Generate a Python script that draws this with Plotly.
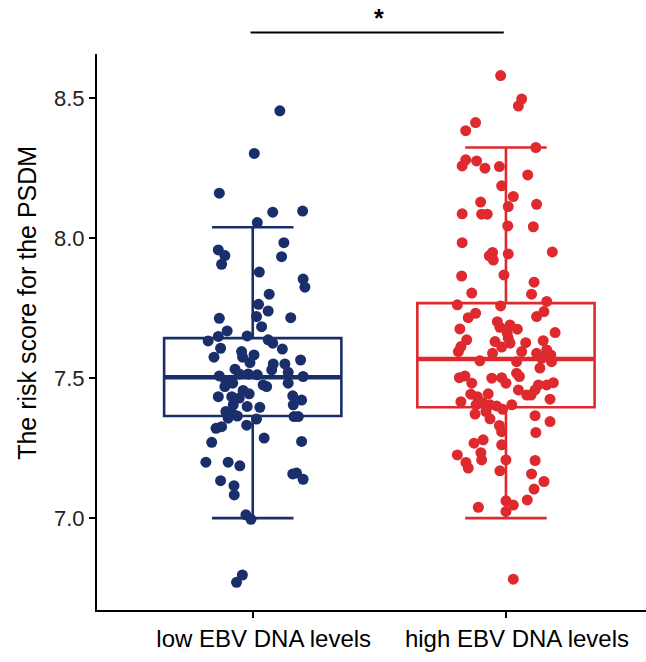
import plotly.graph_objects as go

categories = ["low EBV DNA levels", "high EBV DNA levels"]
cat_pos = [1, 2]
colors = ["#1b2e6c", "#de2a2f"]

# low group: risk score values and horizontal jitter offsets (category units)
low_values = [8.454, 8.302, 8.160, 8.092, 8.096, 8.055, 7.957, 7.937, 7.906, 7.983,
              7.933, 7.878, 7.853, 7.824, 7.799, 7.763, 7.739, 7.713, 7.719, 7.715,
              7.683, 7.668, 7.650, 7.632, 7.648, 7.606, 7.574, 7.636, 7.624, 7.603,
              7.594, 7.582, 7.574, 7.555, 7.564, 7.550, 7.550, 7.531, 7.529, 7.520,
              7.507, 7.514, 7.514, 7.511, 7.505, 7.487, 7.481, 7.475, 7.469, 7.481,
              7.469, 7.433, 7.433, 7.455, 7.443, 7.428, 7.436, 7.421, 7.404, 7.395,
              7.398, 7.404, 7.380, 7.371, 7.364, 7.356, 7.353, 7.362, 7.362, 7.331,
              7.326, 7.320, 7.285, 7.270, 7.273, 7.199, 7.199, 7.186, 7.157, 7.160,
              7.138, 7.133, 7.115, 7.082, 7.011, 6.995, 6.796, 6.770]
low_jitter = [0.107, 0.006, -0.132, 0.079, 0.197, 0.018, -0.136, -0.110, -0.123, 0.123,
              0.114, 0.026, 0.199, 0.206, 0.065, 0.023, 0.061, -0.132, 0.015, 0.150,
              0.035, -0.101, -0.022, -0.176, -0.136, -0.127, -0.153, 0.061, 0.079, 0.117,
              -0.044, 0.005, -0.040, -0.011, 0.189, 0.081, 0.127, -0.070, 0.075, 0.140,
              -0.132, -0.053, -0.018, 0.018, 0.199, -0.106, -0.079, 0.041, 0.055, 0.140,
              -0.110, -0.136, -0.083, -0.038, -0.014, -0.053, 0.158, 0.193, 0.160, 0.028,
              -0.022, -0.077, -0.106, -0.079, -0.061, -0.097, 0.015, 0.163, 0.180, -0.024,
              -0.123, -0.145, 0.045, -0.162, 0.193, -0.185, -0.097, -0.051, 0.158, 0.173,
              0.199, -0.127, -0.074, -0.073, -0.027, -0.007, -0.041, -0.064]

# high group
high_values = [8.580, 8.496, 8.471, 8.412, 8.383, 8.323, 8.279, 8.257, 8.275, 8.249,
               8.255, 8.225, 8.186, 8.148, 8.128, 8.112, 8.120, 8.086, 8.085, 8.085,
               8.043, 8.040, 7.983, 7.948, 7.936, 7.943, 7.950, 7.921, 7.864, 7.868,
               7.842, 7.803, 7.799, 7.761, 7.757, 7.773, 7.737, 7.719, 7.731, 7.715,
               7.701, 7.689, 7.681, 7.674, 7.675, 7.662, 7.660, 7.642, 7.636, 7.630,
               7.624, 7.626, 7.633, 7.612, 7.610, 7.594, 7.594, 7.588, 7.600, 7.582,
               7.588, 7.570, 7.558, 7.561, 7.558, 7.535, 7.517, 7.501, 7.507, 7.481,
               7.499, 7.501, 7.481, 7.505, 7.483, 7.475, 7.475, 7.457, 7.457, 7.439,
               7.439, 7.442, 7.433, 7.443, 7.412, 7.415, 7.424, 7.404, 7.404, 7.400,
               7.404, 7.388, 7.371, 7.380, 7.365, 7.344, 7.354, 7.330, 7.308, 7.305,
               7.267, 7.279, 7.261, 7.225, 7.198, 7.178, 7.233, 7.207, 7.207, 7.168,
               7.205, 7.157, 7.130, 7.103, 7.064, 7.061, 7.046, 7.023, 7.038, 6.781]
high_jitter = [-0.021, 0.062, 0.049, -0.120, -0.159, 0.118, -0.159, -0.173, -0.116, -0.083,
               -0.026, 0.086, -0.017, 0.029, -0.100, 0.009, 0.121, -0.173, -0.096, -0.074,
               0.007, 0.108, -0.173, -0.053, -0.066, 0.009, 0.183, -0.050, -0.175, -0.008,
               0.111, -0.135, 0.101, -0.192, -0.021, 0.161, 0.150, 0.121, -0.120, -0.149,
               -0.034, 0.016, -0.024, 0.045, -0.182, 0.194, 0.005, 0.009, -0.155, -0.043,
               0.016, 0.078, 0.147, -0.178, -0.017, -0.188, 0.062, 0.121, 0.161, 0.177,
               -0.053, 0.141, 0.180, -0.103, 0.042, 0.134, 0.042, -0.184, -0.162, -0.135,
               -0.056, -0.017, 0.000, 0.053, 0.187, 0.161, 0.128, 0.115, 0.049, 0.082,
               0.099, -0.139, -0.113, -0.070, -0.092, -0.178, 0.174, -0.118, -0.063, -0.037,
               0.023, -0.013, -0.122, -0.079, 0.115, 0.174, -0.063, -0.026, -0.017, 0.118,
               -0.126, -0.090, -0.017, -0.192, -0.158, -0.149, -0.099, -0.096, 0.000, -0.024,
               0.115, 0.101, 0.150, 0.111, 0.084, 0.000, 0.029, 0.000, -0.109, 0.029]

# box statistics
q1 = [7.364, 7.395]
median = [7.502, 7.568]
q3 = [7.642, 7.767]
lower_whisker = [6.999, 6.999]
upper_whisker = [8.038, 8.323]

y_title = "The risk score for the PSDM"
y_ticks = [7.0, 7.5, 8.0, 8.5]
y_ticktext = ["7.0", "7.5", "8.0", "8.5"]
signif_label = "*"

box_width = 0.70
x_range = [0.385, 2.553]
y_range = [6.671, 8.657]

fig = go.Figure()

for i in range(2):
    c = cat_pos[i]
    fig.add_trace(go.Box(
        x=[c], q1=[q1[i]], median=[median[i]], q3=[q3[i]],
        lowerfence=[lower_whisker[i]], upperfence=[upper_whisker[i]],
        width=box_width, whiskerwidth=0.46,
        fillcolor="rgba(255,255,255,0)",
        line=dict(color=colors[i], width=2.6),
        boxpoints=False, showlegend=False, hoverinfo="skip"))
    fig.add_trace(go.Scatter(
        x=[c - box_width / 2, c + box_width / 2], y=[median[i], median[i]],
        mode="lines", line=dict(color=colors[i], width=4.5),
        showlegend=False, hoverinfo="skip"))

groups = [(low_values, low_jitter), (high_values, high_jitter)]
for i, (vals, jit) in enumerate(groups):
    fig.add_trace(go.Scatter(
        x=[cat_pos[i] + j for j in jit], y=vals, mode="markers",
        marker=dict(color=colors[i], size=11, line=dict(width=0)),
        showlegend=False, hoverinfo="skip"))

# significance bar between the two category centres
span = x_range[1] - x_range[0]
px1 = (cat_pos[0] - x_range[0]) / span
px2 = (cat_pos[1] - x_range[0]) / span
fig.add_shape(type="line", xref="paper", yref="paper",
              x0=px1 - 0.004, x1=px2 - 0.004, y0=1.0385, y1=1.0385,
              line=dict(color="black", width=2))
fig.add_annotation(xref="paper", yref="paper", x=(px1 + px2) / 2, y=1.064,
                   text="<b>" + signif_label + "</b>", showarrow=False,
                   font=dict(size=25, color="black"), yanchor="middle")

# y-axis title (placed as rotated text, as in the reference)
fig.add_annotation(xref="paper", yref="paper", x=-0.128, y=0.552,
                   text=y_title, textangle=-90, showarrow=False,
                   font=dict(size=25, color="black"),
                   xanchor="center", yanchor="middle")

axis_common = dict(showline=True, linecolor="black", linewidth=2,
                   ticks="outside", ticklen=6, tickwidth=2, tickcolor="black",
                   showgrid=False, zeroline=False)

fig.update_layout(
    width=646, height=662,
    margin=dict(l=97, r=0, t=54, b=52),
    paper_bgcolor="white", plot_bgcolor="white",
    font=dict(family="Liberation Sans, Arial, sans-serif", color="black"),
    xaxis=dict(range=x_range, tickvals=cat_pos, ticktext=categories,
               tickfont=dict(size=24, color="black"), ticklabelshift=11,
               **axis_common),
    yaxis=dict(range=y_range, tickvals=y_ticks, ticktext=y_ticktext,
               tickfont=dict(size=22, color="#222222"),
               **axis_common),
)

fig.write_html("out.html")
